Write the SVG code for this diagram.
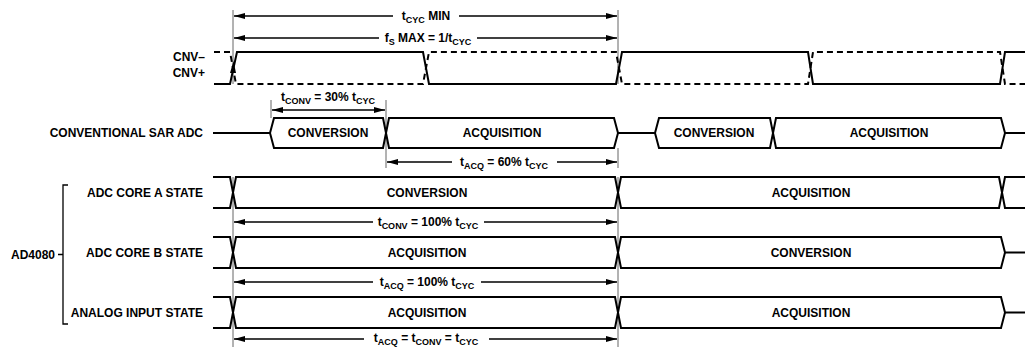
<svg xmlns="http://www.w3.org/2000/svg" width="1034" height="347" viewBox="0 0 1034 347">
<style>
text{font-family:"Liberation Sans",Arial,sans-serif;font-weight:bold;font-size:12px;fill:#000}
.lab{text-anchor:end}
.mid{text-anchor:middle}
.sub{font-size:9px}
.wave{fill:none;stroke:#000;stroke-width:2;stroke-linejoin:miter}
.dash{fill:none;stroke:#000;stroke-width:2;stroke-dasharray:6 4}
.dim{fill:none;stroke:#000;stroke-width:1.3}
.ext{fill:none;stroke:#555;stroke-width:0.9}
.box{fill:#fff;stroke:#000;stroke-width:2}
</style>
<defs>
<marker id="ah" viewBox="0 0 11 6" refX="11" refY="3" markerWidth="11" markerHeight="6" orient="auto-start-reverse" markerUnits="userSpaceOnUse">
<path d="M0,0 L11,3 L0,6 Z" fill="#000"/>
</marker>
</defs>

<g id="connectors">
<path class="ext" d="M233,10 V84 M618,10 V84 M271,100 V118 M386,100 V168 M618,148 V168 M233,177 V347 M618,177 V347"/>
<path class="dim" d="M393,16 H234" marker-end="url(#ah)"/>
<path class="dim" d="M459,16 H617" marker-end="url(#ah)"/>
<path class="dim" d="M379,38 H234" marker-end="url(#ah)"/>
<path class="dim" d="M477,38 H617" marker-end="url(#ah)"/>
<path class="dim" d="M272,110 H385" marker-start="url(#ah)" marker-end="url(#ah)"/>
<path class="dim" d="M452,162 H387" marker-end="url(#ah)"/>
<path class="dim" d="M557,162 H617" marker-end="url(#ah)"/>
<path class="dim" d="M373,222 H234" marker-end="url(#ah)"/>
<path class="dim" d="M484,222 H617" marker-end="url(#ah)"/>
<path class="dim" d="M373,282 H234" marker-end="url(#ah)"/>
<path class="dim" d="M481,282 H617" marker-end="url(#ah)"/>
<path class="dim" d="M364,339 H234" marker-end="url(#ah)"/>
<path class="dim" d="M489,339 H617" marker-end="url(#ah)"/>
</g>

<g id="dim-labels">
<text class="mid" x="426" y="20">t<tspan class="sub" dy="3">CYC</tspan><tspan dy="-3"> MIN</tspan></text>
<text class="mid" x="428" y="42">f<tspan class="sub" dy="3">S</tspan><tspan dy="-3"> MAX = 1/t</tspan><tspan class="sub" dy="3">CYC</tspan></text>
<text class="mid" x="328" y="101">t<tspan class="sub" dy="3">CONV</tspan><tspan dy="-3"> = 30% t</tspan><tspan class="sub" dy="3">CYC</tspan></text>
<text class="mid" x="504" y="166">t<tspan class="sub" dy="3">ACQ</tspan><tspan dy="-3"> = 60% t</tspan><tspan class="sub" dy="3">CYC</tspan></text>
<text class="mid" x="428" y="226">t<tspan class="sub" dy="3">CONV</tspan><tspan dy="-3"> = 100% t</tspan><tspan class="sub" dy="3">CYC</tspan></text>
<text class="mid" x="427" y="286">t<tspan class="sub" dy="3">ACQ</tspan><tspan dy="-3"> = 100% t</tspan><tspan class="sub" dy="3">CYC</tspan></text>
<text class="mid" x="426" y="342">t<tspan class="sub" dy="3">ACQ</tspan><tspan dy="-3"> = t</tspan><tspan class="sub" dy="3">CONV</tspan><tspan dy="-3"> = t</tspan><tspan class="sub" dy="3">CYC</tspan></text>
</g>

<g id="cnv">
<text class="lab" x="205" y="61">CNV–</text>
<text class="lab" x="205" y="77">CNV+</text>
<path class="dash" d="M214,52 H230 L236,84 H423 L429,52 H616 L622,84 H808 L813,52 H1000 L1005,84 H1025"/>
<path class="wave" d="M214,84 H230 L237,52 H423 L429,84 H616 L622,52 H808 L813,84 H1000 L1005,52 H1025"/>
<polygon points="233.5,61 230,73 236,73" fill="#000"/>
</g>

<g id="conventional-sar">
<text class="lab" x="203" y="137">CONVENTIONAL SAR ADC</text>
<path class="wave" d="M213,133 H270 M618,133 H655 M1005,133 H1025"/>
<path class="box" d="M270,133 L274,118 H383 L386,133 L383,148 H274 Z"/>
<path class="box" d="M386,133 L389,118 H614 L618,133 L614,148 H389 Z"/>
<path class="box" d="M655,133 L659,118 H770 L773,133 L770,148 H659 Z"/>
<path class="box" d="M773,133 L776,118 H1001 L1005,133 L1001,148 H776 Z"/>
<text class="mid" x="328" y="137">CONVERSION</text>
<text class="mid" x="502" y="137">ACQUISITION</text>
<text class="mid" x="714" y="137">CONVERSION</text>
<text class="mid" x="889" y="137">ACQUISITION</text>
</g>

<g id="ad4080">
<text class="lab" x="55" y="259">AD4080</text>
<path class="dim" d="M68,185 H63 V324 H68 M58,254.5 H63"/>
</g>

<g id="core-a">
<text class="lab" x="203" y="197">ADC CORE A STATE</text>
<path class="wave" d="M213,177 H230 L236,208 H615 L621,177 H999 L1005,208 H1025"/>
<path class="wave" d="M213,208 H230 L236,177 H615 L621,208 H999 L1005,177 H1025"/>
<text class="mid" x="427" y="197">CONVERSION</text>
<text class="mid" x="811" y="197">ACQUISITION</text>
</g>

<g id="core-b">
<text class="lab" x="203" y="257">ADC CORE B STATE</text>
<path class="wave" d="M213,237 H230 L236,268 H615 L621,237 H1001 L1005,252.5 H1025"/>
<path class="wave" d="M213,268 H230 L236,237 H615 L621,268 H1001 L1005,252.5"/>
<text class="mid" x="427" y="257">ACQUISITION</text>
<text class="mid" x="811" y="257">CONVERSION</text>
</g>

<g id="analog-input">
<text class="lab" x="203" y="317">ANALOG INPUT STATE</text>
<path class="wave" d="M213,297 H230 L236,328 H615 L621,297 H1001 L1005,312.5 H1025"/>
<path class="wave" d="M213,328 H230 L236,297 H615 L621,328 H1001 L1005,312.5"/>
<text class="mid" x="427" y="317">ACQUISITION</text>
<text class="mid" x="811" y="317">ACQUISITION</text>
</g>
</svg>
